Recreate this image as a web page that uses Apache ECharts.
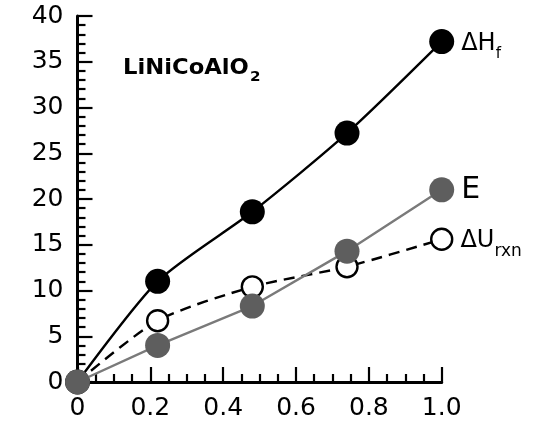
<!DOCTYPE html>
<html>
<head>
<meta charset="utf-8">
<script src="https://cdn.jsdelivr.net/npm/echarts@6/dist/echarts.min.js"></script>
<style>
  html, body { margin: 0; padding: 0; background: #fff; }
  #chart { width: 549px; height: 427px; }
</style>
</head>
<body>
<div id="chart"></div>
<script>
// Composition (x) and energy values for LiNiCoAlO2
const xValues = [0, 0.22, 0.48, 0.74, 1.0];
const heatFormation = [0, 11.0, 18.6, 27.2, 37.2];   // ΔHf
const reactionEnergy = [0, 6.7, 10.4, 12.6, 15.6];   // ΔUrxn
const voltageEnergy = [0, 4.0, 8.3, 14.3, 21.0];     // E
const xTicks = [0, 0.2, 0.4, 0.6, 0.8, 1.0];
const yTicks = [0, 5, 10, 15, 20, 25, 30, 35, 40];

const FONT = 'DejaVu Sans';

function pairs(ys) {
  return xValues.map((x, i) => [x, ys[i]]);
}

// Put a text label on the last point of a series
function withEndLabel(ys, formatter, rich) {
  const data = pairs(ys);
  const last = data.length - 1;
  data[last] = {
    value: data[last],
    label: {
      show: true,
      position: 'right',
      distance: 7,
      formatter: formatter,
      rich: rich,
      color: '#000',
      fontFamily: FONT
    }
  };
  return data;
}

const chart = echarts.init(document.getElementById('chart'), null, { renderer: 'canvas' });

chart.setOption({
  animation: false,
  backgroundColor: '#fff',
  grid: { left: 77.5, top: 16, width: 364.2, height: 366, containLabel: false },
  xAxis: {
    type: 'value',
    min: 0,
    max: 1,
    interval: 0.2,
    axisLine: { show: true, onZero: false, lineStyle: { color: '#000', width: 3 } },
    axisTick: { show: true, inside: true, length: 15, lineStyle: { color: '#000', width: 2.2 } },
    minorTick: { show: true, splitNumber: 4, length: 8, lineStyle: { color: '#000', width: 2.2 } },
    splitLine: { show: false },
    axisLabel: {
      color: '#000',
      fontFamily: FONT,
      fontSize: 25,
      margin: 14,
      formatter: v => {
        const t = xTicks.find(k => Math.abs(k - v) < 1e-9);
        if (t === undefined) return '';
        return t === 0 ? '0' : t.toFixed(1);
      }
    }
  },
  yAxis: {
    type: 'value',
    min: 0,
    max: 40,
    interval: 5,
    axisLine: { show: true, onZero: false, lineStyle: { color: '#000', width: 3 } },
    axisTick: { show: true, inside: true, length: 15, lineStyle: { color: '#000', width: 2.2 } },
    minorTick: { show: true, splitNumber: 5, length: 8, lineStyle: { color: '#000', width: 2.2 } },
    splitLine: { show: false },
    axisLabel: {
      color: '#000',
      fontFamily: FONT,
      fontSize: 25,
      margin: 14,
      padding: [5, 0, 0, 0],
      formatter: v => (yTicks.indexOf(v) >= 0 ? String(v) : '')
    }
  },
  graphic: [{
    type: 'text',
    left: 123,
    top: 58,
    scaleX: 1.08,
    style: {
      text: '{m|LiNiCoAlO}{s|2}',
      rich: {
        m: { fontFamily: FONT, fontWeight: 'bold', fontSize: 21, fill: '#000', verticalAlign: 'top', lineHeight: 26 },
        s: { fontFamily: FONT, fontWeight: 'bold', fontSize: 14, fill: '#000', verticalAlign: 'bottom', lineHeight: 26, padding: [11, 0, 0, 1] }
      }
    }
  }],
  series: [
    {
      name: 'ΔHf',
      type: 'line',
      smooth: 0.25,
      data: withEndLabel(heatFormation, '{a|ΔH}{b|f}', {
        a: { fontFamily: FONT, fontSize: 24, color: '#000', lineHeight: 28, verticalAlign: 'bottom' },
        b: { fontFamily: FONT, fontSize: 15, color: '#000', lineHeight: 28, verticalAlign: 'bottom', padding: [0, 0, -6, 0] }
      }),
      symbol: 'circle',
      symbolSize: 25,
      itemStyle: { color: '#000', borderColor: '#000', borderWidth: 0 },
      lineStyle: { color: '#000', width: 2.4 },
      z: 2
    },
    {
      name: 'ΔUrxn',
      type: 'line',
      smooth: 0.25,
      data: withEndLabel(reactionEnergy, '{a|ΔU}{b|rxn}', {
        a: { fontFamily: FONT, fontSize: 24, color: '#000', lineHeight: 28, verticalAlign: 'bottom' },
        b: { fontFamily: FONT, fontSize: 17, color: '#000', lineHeight: 28, verticalAlign: 'bottom', padding: [0, 0, -7, 0] }
      }),
      symbol: 'circle',
      symbolSize: 21,
      itemStyle: { color: '#fff', borderColor: '#000', borderWidth: 2.4 },
      lineStyle: { color: '#000', width: 2.4, type: [11, 7] },
      z: 3
    },
    {
      name: 'E',
      type: 'line',
      data: withEndLabel(voltageEnergy, '{a|E}', {
        a: { fontFamily: FONT, fontSize: 30, color: '#000' }
      }),
      symbol: 'circle',
      symbolSize: 25,
      itemStyle: { color: '#5e5e5e', borderWidth: 0 },
      lineStyle: { color: '#7a7a7a', width: 2.4 },
      z: 4
    }
  ]
});
</script>
</body>
</html>
